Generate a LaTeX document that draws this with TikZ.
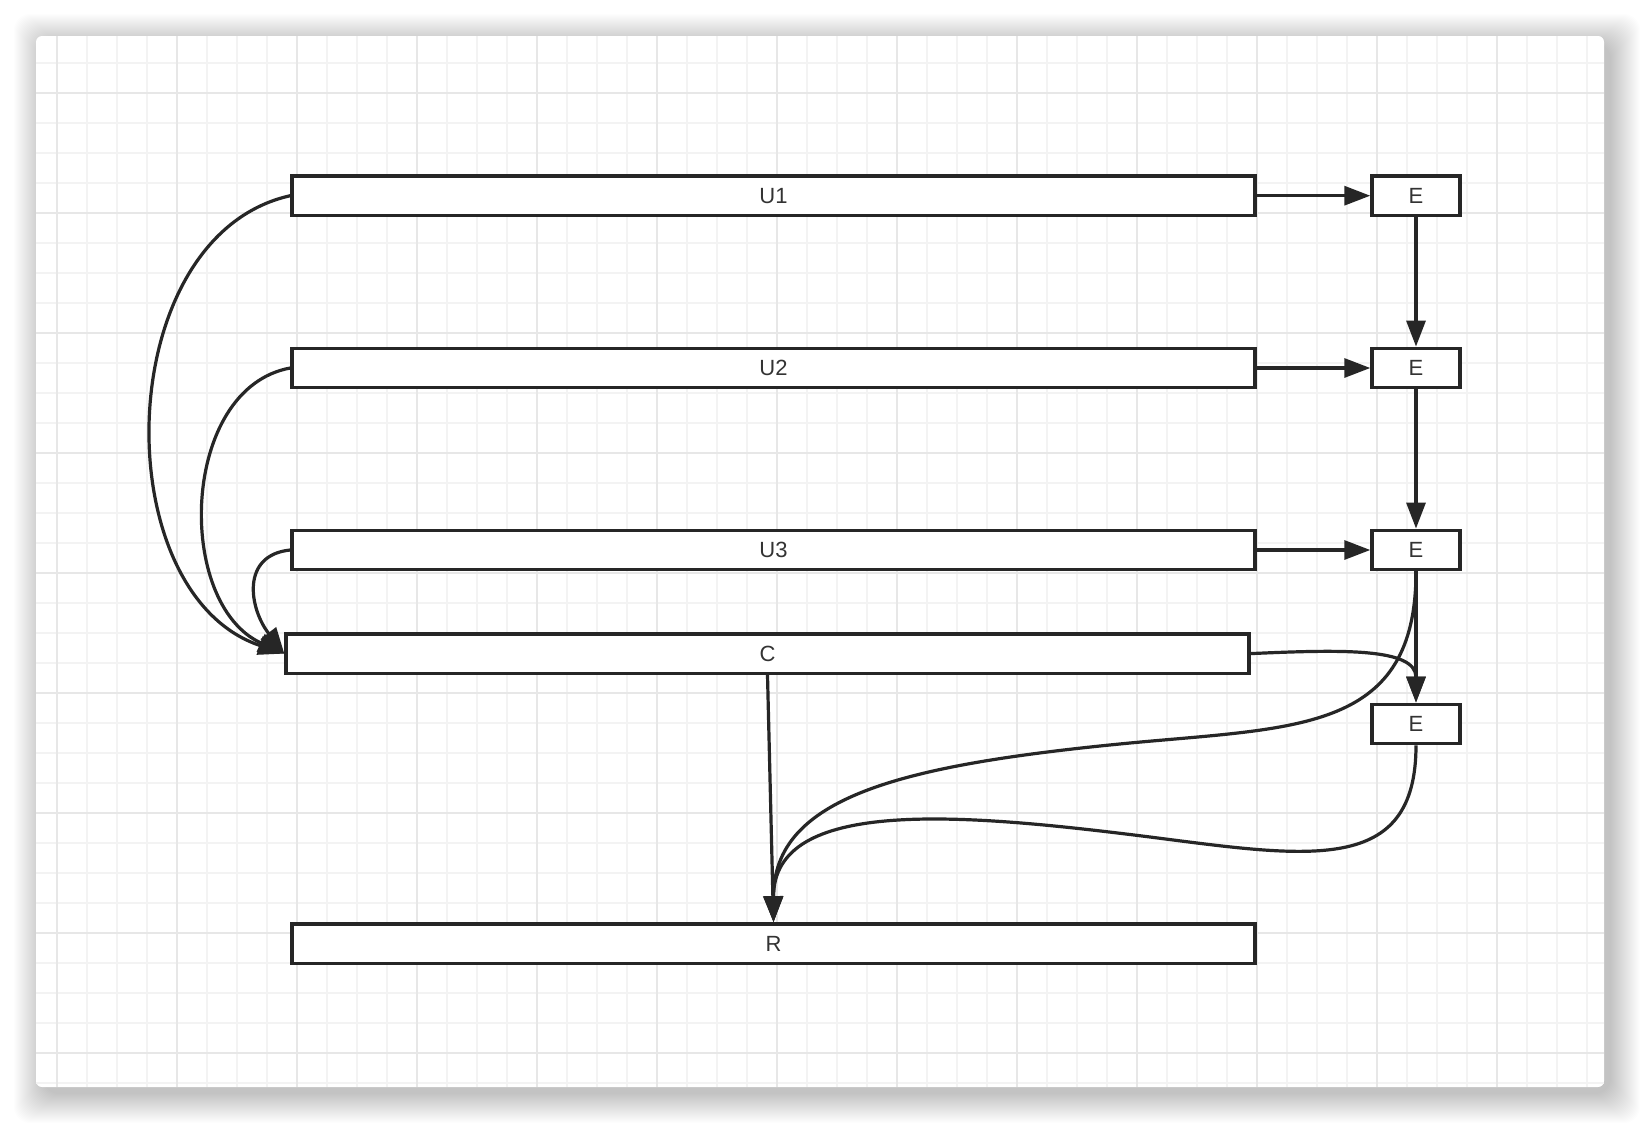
\documentclass[tikz,border=0pt]{standalone}
\usepackage{fontspec}
\setmainfont{Liberation Sans}
\usetikzlibrary{arrows.meta}
\definecolor{ink}{RGB}{38,38,38}
\definecolor{txt}{RGB}{51,51,51}
\definecolor{gridMinor}{RGB}{243,243,243}
\definecolor{gridMajor}{RGB}{231,231,231}
\newcommand{\LW}{481.5pt}
\newcommand{\LH}{19.75pt}
\newcommand{\EW}{44pt}

\begin{document}
\begin{tikzpicture}[
    x=0.5pt, y=-0.5pt,
    gridminor/.style={draw=gridMinor, line width=0.8pt},
    gridmajor/.style={draw=gridMajor, line width=1.0pt},
    lane/.style={rectangle, draw=ink, line width=1.7pt, fill=white, minimum width=\LW, minimum height=\LH, inner sep=0pt, text=txt, font=\fontsize{11}{13}\selectfont},
    ebox/.style={lane, minimum width=\EW},
    link/.style={draw=ink, line width=1.6pt, -{Triangle[length=13pt, width=9.5pt]}},
  ]

  %% ================= page, card and grid =================
  \useasboundingbox (0,0) rectangle (1640,1124);
  \fill[white] (0,0) rectangle (1640,1124);
  \foreach \s in {1,...,30}
    \fill[black, opacity=0.0065, rounded corners=8pt] ({44-\s},{44-\s}) rectangle ({1610+\s},{1093+\s});
  \fill[white, rounded corners=3pt] (36,36) rectangle (1604,1087);

  \foreach \k in {0,...,51}
    \draw[gridminor] ({56.7+30*\k},36) -- ({56.7+30*\k},1087);
  \foreach \k in {0,...,34}
    \draw[gridminor] (36,{62.7+30*\k}) -- (1604,{62.7+30*\k});
  \foreach \k in {0,...,12}
    \draw[gridmajor] ({56.7+120*\k},36) -- ({56.7+120*\k},1087);
  \foreach \k in {0,...,8}
    \draw[gridmajor] (36,{92.7+120*\k}) -- (1604,{92.7+120*\k});

  %% ================= lanes and E boxes =================
  \node[lane] (U1) at (773.5,195.7) {U1};
  \node[lane] (U2) at (773.5,368)   {U2};
  \node[lane] (U3) at (773.5,550)   {U3};
  \node[lane] (C)  at (767.5,653.6) {C};
  \node[lane] (R)  at (773.5,943.6) {R};

  \node[ebox] (E1) at (1416,195.7) {E};
  \node[ebox] (E2) at (1416,368)   {E};
  \node[ebox] (E3) at (1416,550)   {E};
  \node[ebox] (E4) at (1416,724)   {E};

  % waypoints of the long curves into R
  \coordinate (w3) at (1130,743);
  \coordinate (w4) at (1150,837);

  %% ================= connectors =================
  \draw[link] (U1) -- (E1);
  \draw[link] (U2) -- (E2);
  \draw[link] (U3) -- (E3);
  \draw[link] (E1) -- (E2);
  \draw[link] (E2) -- (E3);
  \draw[link] (E3) -- (E4);
  \draw[link] (C.south) -- (R.north);

  % lanes feeding C from the left
  \draw[link] (U1.west) .. controls +(-180,40) and +(-180,-60) .. (C.west);
  \draw[link] (U2.west) .. controls +(-110,20) and +(-110,-50) .. (C.west);
  \draw[link] (U3.west) .. controls +(-50,5) and +(-35,-45) .. (C.west);

  \draw[link] (C.east) .. controls +(90,-4) and +(0,-55) .. (E4.north);

  \draw[link] (E3.south) .. controls +(0,160) and +(170,-16) .. (w3)
                         .. controls +(-230,22) and +(0,-125) .. (R.north);
  \draw[link] (E4.south) .. controls +(0,130) and +(160,20.5) .. (w4)
                         .. controls +(-190,-24) and +(0,-125) .. (R.north);

\end{tikzpicture}
\end{document}
